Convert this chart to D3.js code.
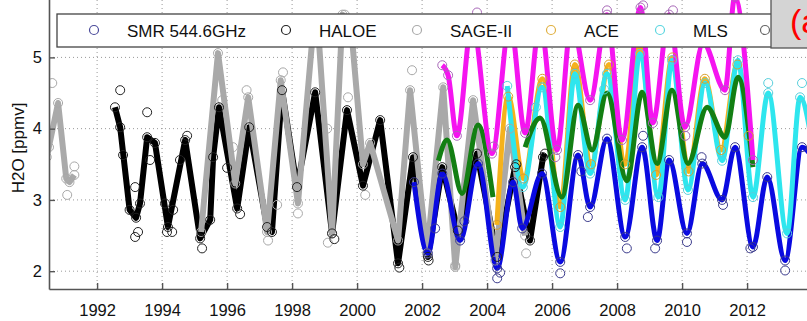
<!DOCTYPE html>
<html>
<head>
<meta charset="utf-8">
<script src="https://cdn.jsdelivr.net/npm/d3@7"></script>
<style>
  body { margin: 0; background: #fff; }
  svg { display: block; }
  text { font-family: "Liberation Sans", Arial, sans-serif; }
</style>
</head>
<body>
<svg width="807" height="321"></svg>
<script>
// tick labels
const yearTicks = [1992, 1994, 1996, 1998, 2000, 2002, 2004, 2006, 2008, 2010, 2012];
const ppmvTicks = [2, 3, 4, 5];

// [decimal year, H2O ppmv]
const sageEarly = [[1990.45,3.6],[1990.8,4.36],[1991.05,3.3],[1991.15,3.25],[1991.3,3.35]];
const haloe = [[1992.55,4.3],[1992.71,4.02],[1993.0,2.86],[1993.2,2.75],[1993.32,2.95],[1993.54,3.88],[1993.78,3.8],
  [1994.18,2.62],[1994.71,3.84],[1995.17,2.46],[1995.48,2.72],[1995.57,3.6],[1995.75,4.3],[1996.31,2.88],[1996.68,4.02],
  [1997.23,2.62],[1997.38,2.55],[1997.69,4.54],[1998.15,3.18],[1998.71,4.51],[1999.23,2.53],[1999.69,4.26],[2000.18,3.2],
  [2000.71,4.12],[2001.26,2.11],[2001.72,3.6],[2002.18,2.2],[2002.62,3.46],[2003.1,2.57],[2003.69,3.65],[2004.31,2.2],
  [2004.86,3.46],[2005.32,2.43],[2005.72,3.6],[2005.78,3.65]];
const sage = [[1995.2,2.55],[1995.72,5.06],[1996.25,3.23],[1996.65,4.44],[1997.23,2.55],[1997.65,4.68],[1998.18,2.95],
  [1998.65,5.4],[1998.8,5.4],[1999.23,2.53],[1999.55,5.6],[1999.8,5.5],[2000.18,3.5],[2000.4,3.8],[2001.26,2.43],
  [2001.63,4.54],[2002.15,2.25],[2002.65,4.58],[2003.02,2.06],[2003.57,4.4],[2004.25,2.15],[2004.7,4.0],[2005.17,2.5]];
const smr = [[2001.75,3.25],[2002.18,2.25],[2002.62,3.37],[2003.17,2.43],[2003.72,3.51],[2004.31,2.04],[2004.8,3.25],
  [2005.08,2.6],[2005.69,3.37],[2006.25,2.13],[2006.8,3.63],[2007.17,2.9],[2007.69,3.86],[2008.25,2.48],[2008.77,3.74],
  [2009.23,2.43],[2009.6,3.56],[2010.15,2.53],[2010.62,3.51],[2011.23,3.0],[2011.63,3.74],[2012.18,2.34],[2012.62,3.32],
  [2013.17,2.15],[2013.69,3.74],[2014.0,3.6]];
const ace = [[2004.3,2.65],[2004.65,4.45],[2005.12,3.3],[2005.7,4.7],[2006.25,2.9],[2006.7,4.9],[2007.2,3.5],[2007.75,4.9],
  [2008.25,3.5],[2008.7,5.2],[2009.2,3.35],[2009.7,5.0],[2010.2,3.4],[2010.7,4.7],[2011.2,3.7],[2011.7,4.9],[2012.05,3.9]];
const mls = [[2004.62,4.6],[2005.1,3.18],[2005.69,4.58],[2006.25,2.62],[2006.7,4.77],[2007.17,3.37],[2007.69,4.77],
  [2008.25,3.0],[2008.7,5.05],[2009.27,3.04],[2009.69,4.96],[2010.18,3.14],[2010.71,4.64],[2011.23,3.55],[2011.72,4.96],
  [2012.18,3.04],[2012.65,4.5],[2013.23,2.53],[2013.63,4.44],[2014.0,3.8]];
const green = [[2002.5,3.55],[2002.77,3.84],[2003.23,3.09],[2003.72,4.05],[2004.18,3.04],[2004.6,null],[2005.17,3.74],
  [2005.63,4.15],[2006.3,3.04],[2006.8,4.33],[2007.23,3.7],[2007.69,4.5],[2008.3,3.27],[2008.77,4.51],[2009.23,3.51],
  [2009.69,4.54],[2010.18,3.51],[2010.77,4.3],[2011.32,3.88],[2011.72,4.72],[2012.18,3.46]];
const magenta = [[2002.62,4.89],[2002.8,4.75],[2003.07,3.9],[2003.54,5.5],[2004.15,3.65],[2004.71,5.5],[2005.17,3.94],
  [2005.63,5.5],[2006.15,3.7],[2006.6,5.5],[2007.17,4.4],[2007.69,5.6],[2008.15,3.84],[2008.72,5.7],[2009.1,4.08],
  [2009.6,5.6],[2010.09,4.02],[2010.65,5.2],[2011.32,4.54],[2011.62,5.85],[2012.18,3.56]];

// single measurements lying off the lines
const haloeExtra = [[1992.71,4.54],[1993.54,4.23],[1993.17,2.48],[1993.26,2.55],[1993.17,3.18],[1993.63,3.56],[1992.8,3.63],
  [1994.09,2.95],[1994.34,2.86],[1994.15,2.55],[1994.31,2.55],[1994.77,3.9],[1994.55,3.56],[1995.23,2.32],[1996.0,3.45],
  [1996.4,2.8],[1999.3,2.45],[2001.3,2.05],[2002.2,2.15],[2004.9,3.5]];
const sageExtra = [[1990.62,4.64],[1990.52,3.74],[1991.08,3.07],[1991.3,3.47],[1997.72,4.79],[1996.6,4.54],[1998.18,2.81],
  [1999.1,2.4],[1997.26,2.43],[1995.85,4.4],[1996.18,3.74],[1999.08,4.0],[2000.25,3.07],[1999.72,4.44],[1997.54,2.93],
  [2001.69,4.82],[2003.02,2.08],[1999.62,5.6],[2005.2,2.25]];
const smrExtra = [[2004.31,1.9],[2004.4,1.98],[2006.25,1.97],[2007.1,2.76],[2008.3,2.32],[2009.17,2.32],[2010.15,2.41],
  [2011.26,2.93],[2012.1,2.32],[2013.17,2.01],[2006.9,3.4],[2008.8,3.9],[2010.6,3.6],[2002.4,2.6],[2003.3,2.7]];
const mlsExtra = [[2012.65,4.64],[2013.69,4.64],[2005.5,4.3],[2007.6,4.55]];
const magentaExtra = [[2003.69,5.63],[2007.69,5.66],[2008.8,5.73],[2009.72,5.66],[2004.2,3.75],[2006.1,3.6],[2010.1,3.9]];

// legend: the last entry's name is hidden under the panel label box in the reference
const legendNames = ["SMR 544.6GHz", "HALOE", "SAGE-II", "ACE", "MLS", ""];
const legendColors = ["#4a4a9a", "#222", "#aaa", "#e0b040", "#5ad6e0", "#666"];

const svg = d3.select("svg");
const x = d3.scaleLinear().domain([1990.52, 2014.6]).range([49, 831.6]);
const y = d3.scaleLinear().domain([1.75, 6.1]).range([289, -21]);

svg.append("clipPath").attr("id", "plot")
  .append("rect").attr("x", 49).attr("y", -30).attr("width", 800).attr("height", 319);

// dotted grid
const grid = svg.append("g").attr("stroke", "#999").attr("stroke-dasharray", "1,3");
grid.selectAll("line.v").data(yearTicks).enter().append("line")
  .attr("x1", d => x(d)).attr("x2", d => x(d)).attr("y1", 289).attr("y2", 0);
grid.selectAll("line.h").data(ppmvTicks).enter().append("line")
  .attr("x1", 49).attr("x2", 807).attr("y1", d => y(d)).attr("y2", d => y(d));

const plot = svg.append("g").attr("clip-path", "url(#plot)");
const sharp = d3.line().defined(d => d[1] != null).x(d => x(d[0])).y(d => y(d[1]));
const smooth = d3.line().defined(d => d[1] != null).curve(d3.curveMonotoneX)
  .x(d => x(d[0])).y(d => y(d[1]));

const lines = [
  [sageEarly, "#aaa", 6, sharp], [haloe, "#000", 6, sharp], [sage, "#a9a9a9", 6, sharp],
  [smr, "#0a0ae0", 5, smooth], [ace, "#f5b21c", 5, smooth], [mls, "#2ee6ee", 5, smooth],
  [green, "#137f13", 5, smooth], [magenta, "#f514f0", 5, smooth]
];
lines.forEach(([data, color, w, gen]) => {
  plot.append("path").datum(data).attr("d", gen)
    .attr("fill", "none").attr("stroke", color).attr("stroke-width", w)
    .attr("stroke-linejoin", "round");
});

const circles = [
  [sageEarly.concat(sage, sageExtra), "#a8a8a8"], [haloe.concat(haloeExtra), "#222"],
  [smr.concat(smrExtra), "#3a3a8c"], [ace, "#d8a030"], [mls.concat(mlsExtra), "#58cfdc"],
  [magenta.concat(magentaExtra), "#a868b8"]
];
circles.forEach(([data, color]) => {
  plot.append("g").selectAll("circle").data(data.filter(d => d[1] != null)).enter().append("circle")
    .attr("cx", d => x(d[0])).attr("cy", d => y(d[1])).attr("r", 4.5)
    .attr("fill", "none").attr("stroke", color).attr("stroke-width", 1);
});

// axes
const xAxis = svg.append("g").attr("transform", "translate(0,289)")
  .call(d3.axisBottom(x).tickValues(yearTicks).tickFormat(d3.format("d"))
    .tickSizeInner(-6).tickSizeOuter(0).tickPadding(15));
const yAxis = svg.append("g").attr("transform", "translate(49,0)")
  .call(d3.axisLeft(y).tickValues(ppmvTicks).tickFormat(d3.format("d"))
    .tickSizeInner(-6).tickSizeOuter(0).tickPadding(7));
[xAxis, yAxis].forEach(a => {
  a.select(".domain").attr("stroke", "#555").attr("stroke-width", 1.6);
  a.selectAll(".tick line").attr("stroke", "#555").attr("stroke-width", 1.4);
  a.selectAll(".tick text").attr("fill", "#111").style("font-size", "16.5px");
});

svg.append("text").attr("transform", "translate(18,148) rotate(-90)")
  .attr("text-anchor", "middle").attr("dominant-baseline", "central")
  .style("font-size", "17px").attr("fill", "#111").text("H2O [ppmv]");

// legend
const legend = svg.append("g");
legend.append("rect").attr("x", 57).attr("y", 14).attr("width", 760).attr("height", 33)
  .attr("fill", "#fff").attr("stroke", "#444").attr("stroke-width", 1.3);
const markerX = [94, 286, 417, 551, 660, 765];
legendNames.forEach((name, i) => {
  legend.append("circle").attr("cx", markerX[i]).attr("cy", 30).attr("r", 4.5)
    .attr("fill", "none").attr("stroke", legendColors[i]).attr("stroke-width", 1.2);
  if (name) legend.append("text").attr("x", markerX[i] + 33).attr("y", 36.5)
    .style("font-size", "17px").attr("fill", "#111").text(name);
});

// panel label box
svg.append("rect").attr("x", 771).attr("y", -2).attr("width", 50).attr("height", 50)
  .attr("fill", "#d4d4d4").attr("stroke", "#555").attr("stroke-width", 1.3);
svg.append("text").attr("x", 790).attr("y", 33).style("font-size", "34px")
  .attr("fill", "#f00").text("(a)");
</script>
</body>
</html>
